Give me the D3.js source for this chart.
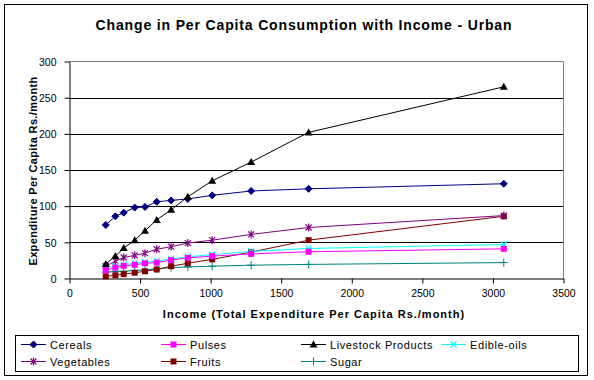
<!DOCTYPE html>
<html>
<head>
<meta charset="utf-8">
<script src="https://cdn.jsdelivr.net/npm/d3@7"></script>
<style>
  html, body { margin: 0; padding: 0; background: #fff; }
  svg { display: block; font-family: "Liberation Sans", Arial, sans-serif; }
</style>
</head>
<body>
<svg id="chart" width="594" height="380"></svg>
<script>
// ---- data ----
const income = [257, 325, 384, 462, 535, 618, 720, 838, 1011, 1287, 1694, 3077];
const cereals    = [74, 86, 91, 98, 99, 106, 108, 110, 115, 121, 124, 131];
const pulses     = [11.5, 15, 17.5, 19, 21, 22, 25.5, 28.5, 31, 34, 37, 41];
const livestock  = [20, 31, 42, 53, 66, 81, 95, 113, 135, 161, 202, 265];
const edibleOils = [14, 17, 19, 21, 22.5, 24, 27, 30, 33, 37.5, 41.5, 47];
const vegetables = [17, 24, 29, 32, 35, 40.5, 44, 49, 53, 61, 70.5, 87];
const fruits     = [3, 4.5, 6, 8, 10, 12.5, 17, 21, 26.5, 36.5, 53, 86];
const sugar      = [8.7, 9.7, 10, 11, 12, 13.3, 15, 16, 17, 18.4, 19.5, 22];
const xTicks = [0, 500, 1000, 1500, 2000, 2500, 3000, 3500];
const yTicks = [0, 50, 100, 150, 200, 250, 300];
const seriesNames = ["Cereals", "Pulses", "Livestock Products", "Edible-oils", "Vegetables", "Fruits", "Sugar"];
const seriesColors = ["#000080", "#FF00FF", "#000000", "#00FFFF", "#800080", "#800000", "#008080"];
const seriesMarkers = ["diamond", "square", "triangle", "x", "asterisk", "square", "plus"];
const seriesValues = [cereals, pulses, livestock, edibleOils, vegetables, fruits, sugar];
const titleText = "Change in Per Capita Consumption with Income - Urban";
const xTitle = "Income (Total Expenditure Per Capita Rs./month)";
const yTitle = "Expenditure Per Capita Rs./month";

const svg = d3.select("#chart");

// outer frame
svg.append("rect").attr("x", 4.5).attr("y", 4.5).attr("width", 583).attr("height", 371)
  .attr("fill", "#fff").attr("stroke", "#000").attr("stroke-width", 1);

const plot = {left: 69.5, right: 563.5, top: 61.5, bottom: 278.5};
const x = d3.scaleLinear().domain([0, 3500]).range([plot.left, plot.right]);
const y = d3.scaleLinear().domain([0, 300]).range([plot.bottom, plot.top]);

// title
svg.append("text").attr("x", 304).attr("y", 30).attr("text-anchor", "middle")
  .attr("font-size", 14).attr("font-weight", "bold").attr("letter-spacing", 0.85)
  .text(titleText);

// gridlines
svg.append("g").selectAll("line").data(yTicks.filter(d => d > 0 && d < 300)).join("line")
  .attr("x1", plot.left).attr("x2", plot.right)
  .attr("y1", d => Math.round(y(d)) + 0.5).attr("y2", d => Math.round(y(d)) + 0.5)
  .attr("stroke", "#000").attr("stroke-width", 1);

// plot border top/right gray
svg.append("path")
  .attr("d", `M${plot.left},${plot.top}H${plot.right}V${plot.bottom}`)
  .attr("fill", "none").attr("stroke", "#808080").attr("stroke-width", 1);

// axes
const xAxis = d3.axisBottom(x).tickValues(xTicks).tickFormat(d3.format("d"))
  .tickSize(5).tickPadding(6).tickSizeOuter(0);
const gx = svg.append("g").attr("transform", `translate(0,${plot.bottom})`).call(xAxis);
const yAxis = d3.axisLeft(y).tickValues(yTicks).tickFormat(d3.format("d"))
  .tickSize(5).tickPadding(8).tickSizeOuter(0);
const gy = svg.append("g").attr("transform", `translate(${plot.left},0)`).call(yAxis);
[gx, gy].forEach(g => {
  g.select(".domain").attr("stroke", "#000");
  g.selectAll(".tick line").attr("stroke", "#000");
  g.selectAll(".tick text").attr("font-family", "Liberation Sans, Arial, sans-serif")
    .attr("font-size", 10.5).attr("fill", "#000");
});
gy.selectAll(".tick text").attr("dy", "0.35em");

// axis titles
svg.append("text").attr("x", 314).attr("y", 318).attr("text-anchor", "middle")
  .attr("font-size", 11).attr("font-weight", "bold").attr("letter-spacing", 1.0).text(xTitle);
svg.append("text").attr("transform", `translate(37,${(plot.top + plot.bottom) / 2 + 1}) rotate(-90)`)
  .attr("text-anchor", "middle").attr("font-size", 11).attr("font-weight", "bold")
  .attr("letter-spacing", 0.35).text(yTitle);

// marker drawer
function drawMarker(g, type, color, cx, cy) {
  const s = 3.5;
  if (type === "diamond") {
    g.append("path").attr("d", `M${cx},${cy - s}L${cx + s},${cy}L${cx},${cy + s}L${cx - s},${cy}Z`)
      .attr("fill", color).attr("stroke", color).attr("stroke-width", 1);
  } else if (type === "square") {
    g.append("rect").attr("x", cx - 3).attr("y", cy - 3).attr("width", 6).attr("height", 6)
      .attr("fill", color);
  } else if (type === "triangle") {
    g.append("path").attr("d", `M${cx},${cy - 4}L${cx + 4},${cy + 3}L${cx - 4},${cy + 3}Z`)
      .attr("fill", color);
  } else if (type === "x") {
    g.append("path").attr("d", `M${cx - 3},${cy - 3}L${cx + 3},${cy + 3}M${cx + 3},${cy - 3}L${cx - 3},${cy + 3}`)
      .attr("stroke", color).attr("stroke-width", 1.2).attr("fill", "none");
  } else if (type === "asterisk") {
    g.append("path").attr("d", `M${cx - 3},${cy - 3}L${cx + 3},${cy + 3}M${cx + 3},${cy - 3}L${cx - 3},${cy + 3}M${cx},${cy - 4}L${cx},${cy + 4}`)
      .attr("stroke", color).attr("stroke-width", 1.2).attr("fill", "none");
  } else if (type === "plus") {
    g.append("path").attr("d", `M${cx - 4},${cy}L${cx + 4},${cy}M${cx},${cy - 4}L${cx},${cy + 4}`)
      .attr("stroke", color).attr("stroke-width", 1).attr("fill", "none");
  }
}

// series (draw in reverse so cereals on top)
const line = d3.line().x(d => x(d[0])).y(d => y(d[1]));
const order = [6, 5, 4, 3, 1, 0, 2];
order.forEach(i => {
  const pts = income.map((v, j) => [v, seriesValues[i][j]]);
  const g = svg.append("g");
  g.append("path").datum(pts).attr("d", line).attr("fill", "none")
    .attr("stroke", seriesColors[i]).attr("stroke-width", 1);
  pts.forEach(p => drawMarker(g, seriesMarkers[i], seriesColors[i], x(p[0]), y(p[1])));
});

// legend
svg.append("rect").attr("x", 15.5).attr("y", 335.5).attr("width", 563).attr("height", 36)
  .attr("fill", "#fff").attr("stroke", "#000").attr("stroke-width", 1);
const colX = [21, 161, 301, 441];
const rowY = [344.5, 361.5];
seriesNames.forEach((name, i) => {
  const cx = colX[i % 4], cy = rowY[Math.floor(i / 4)];
  const g = svg.append("g");
  g.append("line").attr("x1", cx).attr("x2", cx + 25).attr("y1", cy).attr("y2", cy)
    .attr("stroke", seriesColors[i]).attr("stroke-width", 1);
  drawMarker(g, seriesMarkers[i], seriesColors[i], cx + 12.5, cy);
  g.append("text").attr("x", cx + 29).attr("y", cy + 4).attr("font-size", 11)
    .attr("letter-spacing", 0.6).text(name);
});
</script>
</body>
</html>
